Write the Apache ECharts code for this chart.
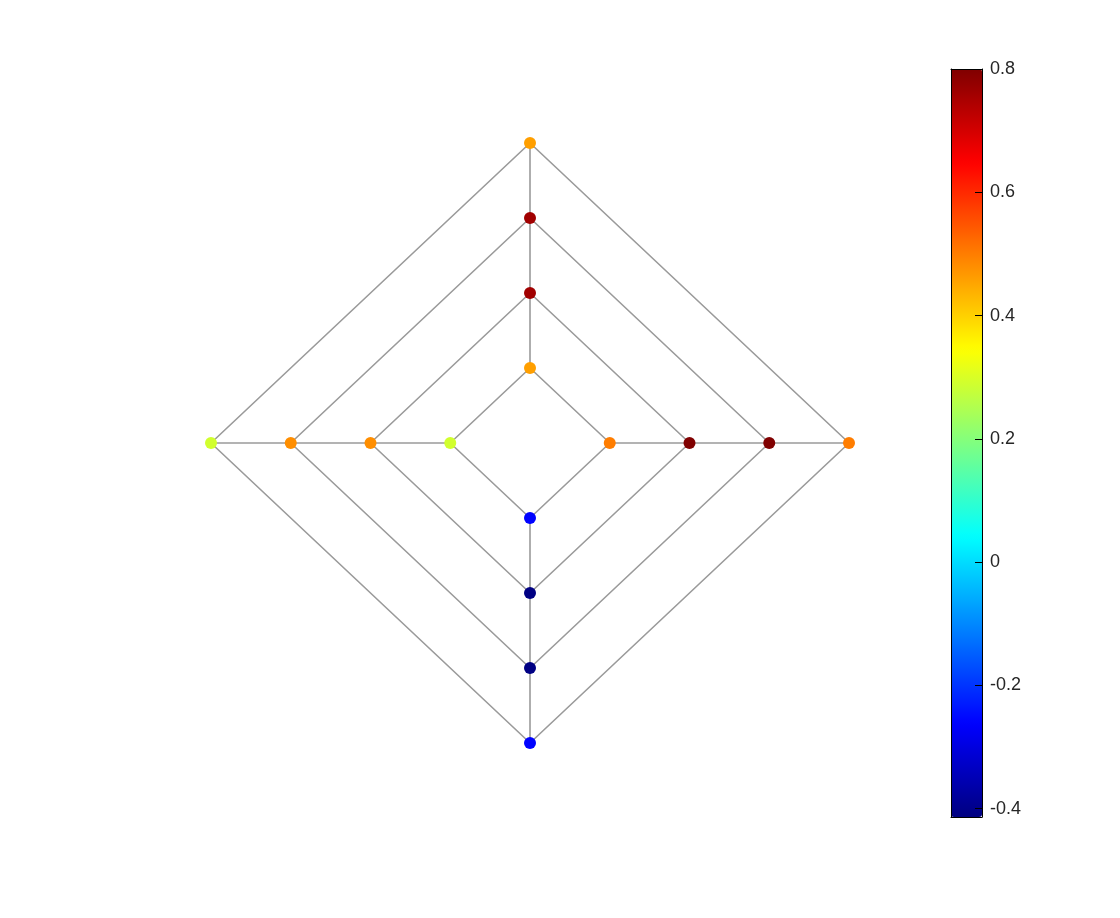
<!DOCTYPE html>
<html>
<head>
<meta charset="utf-8">
<script src="https://cdn.jsdelivr.net/npm/echarts@6/dist/echarts.min.js"></script>
<style>html,body{margin:0;padding:0;background:#fff;}#c{width:1120px;height:918px;}</style>
</head>
<body>
<div id="c"></div>
<script>
// ---- data ----
const radii = [1, 2, 3, 4];
const topVals = [0.46, 0.76, 0.76, 0.46];
const rightVals = [0.50, 0.80, 0.80, 0.50];
const bottomVals = [-0.26, -0.41, -0.41, -0.26];
const leftVals = [0.29, 0.48, 0.48, 0.29];
const colorbarTicks = [-0.4, -0.2, 0, 0.2, 0.4, 0.6, 0.8];
const colorMin = -0.4136;
const colorMax = 0.8;
const jetColors = ['#000080', '#0000ff', '#0080ff', '#00ffff', '#80ff80', '#ffff00', '#ff8000', '#ff0000', '#800000'];

// ---- build ----
const points = [];
radii.forEach((r, i) => {
  points.push([0, r, topVals[i]]);
  points.push([r, 0, rightVals[i]]);
  points.push([0, -r, bottomVals[i]]);
  points.push([-r, 0, leftVals[i]]);
});
const lineStyle = { color: '#9a9a9a', width: 1.6 };
const series = [];
radii.forEach(r => {
  series.push({
    type: 'line', xAxisIndex: 0, yAxisIndex: 0, symbol: 'none', silent: true,
    lineStyle: lineStyle, z: 2,
    data: [[r, 0], [0, r], [-r, 0], [0, -r], [r, 0]]
  });
});
const rMin = Math.min(...radii);
const rMax = Math.max(...radii);
[[[rMin, 0], [rMax, 0]], [[-rMin, 0], [-rMax, 0]], [[0, rMin], [0, rMax]], [[0, -rMin], [0, -rMax]]].forEach(seg => {
  series.push({ type: 'line', xAxisIndex: 0, yAxisIndex: 0, symbol: 'none', silent: true, lineStyle: lineStyle, z: 2,
    data: seg });
});
const scatterIndex = series.length;
series.push({ type: 'scatter', xAxisIndex: 0, yAxisIndex: 0, symbolSize: 12, z: 5,
  itemStyle: { opacity: 1 }, data: points });

const option = {
  animation: false,
  backgroundColor: '#ffffff',
  grid: [
    { left: 131.25, top: 68, width: 797.5, height: 750 },
    { left: 951, top: 69, width: 31, height: 748 }
  ],
  xAxis: [
    { type: 'value', gridIndex: 0, min: -5, max: 5, show: false },
    { type: 'value', gridIndex: 1, min: 0, max: 1, z: 10,
      axisLine: { show: true, onZero: false, lineStyle: { color: '#000', width: 1 } },
      axisTick: { show: false }, axisLabel: { show: false }, splitLine: { show: false } },
    { type: 'value', gridIndex: 1, min: 0, max: 1, position: 'top', z: 10,
      axisLine: { show: true, onZero: false, lineStyle: { color: '#000', width: 1 } },
      axisTick: { show: false }, axisLabel: { show: false }, splitLine: { show: false } }
  ],
  yAxis: [
    { type: 'value', gridIndex: 0, min: -5, max: 5, show: false },
    { type: 'value', gridIndex: 1, min: colorMin, max: colorMax, position: 'right', z: 10,
      axisLine: { show: true, onZero: false, lineStyle: { color: '#000', width: 1 } },
      axisTick: { show: true, inside: true, length: 7, customValues: colorbarTicks, lineStyle: { color: '#000', width: 1 } },
      axisLabel: { show: true, margin: 8, customValues: colorbarTicks, color: '#262626', fontSize: 18,
        padding: [5, 0, 0, 0],
        fontFamily: 'Liberation Sans, Arial, sans-serif',
        formatter: v => String(Math.round(v * 10) / 10) },
      splitLine: { show: false } },
    { type: 'value', gridIndex: 1, min: colorMin, max: colorMax, position: 'left', z: 10,
      axisLine: { show: true, onZero: false, lineStyle: { color: '#000', width: 1 } },
      axisTick: { show: false }, axisLabel: { show: false }, splitLine: { show: false } }
  ],
  visualMap: {
    type: 'continuous', seriesIndex: scatterIndex, dimension: 2,
    min: colorMin, max: colorMax, calculable: false, hoverLink: false,
    left: 951, top: 69, itemWidth: 31, itemHeight: 748, padding: 0,
    text: null, showLabel: false,
    inRange: { color: jetColors }
  },
  series: series
};
const chart = echarts.init(document.getElementById('c'), null, { renderer: 'canvas' });
chart.setOption(option);
</script>
</body>
</html>
